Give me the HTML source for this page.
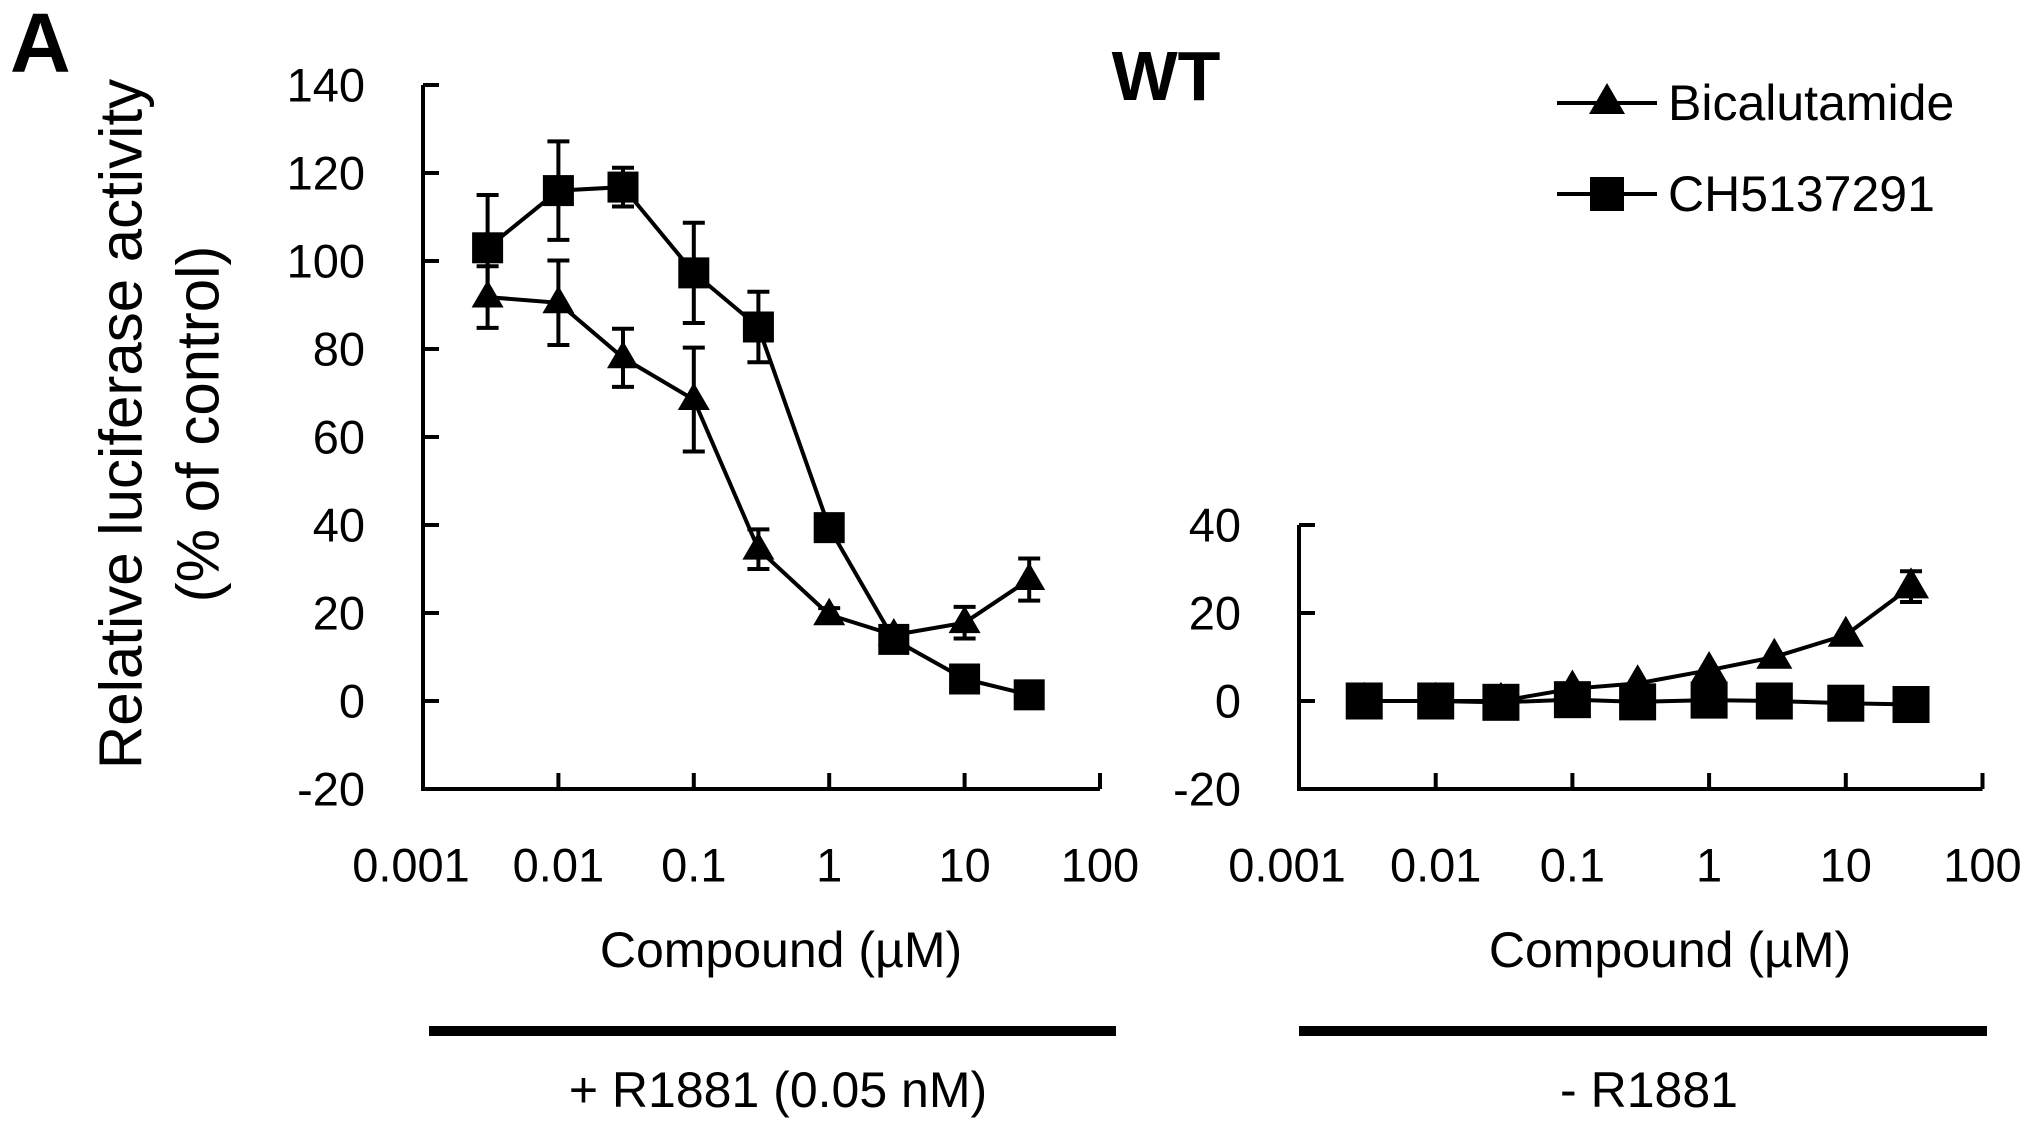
<!DOCTYPE html>
<html><head><meta charset="utf-8"><style>
html,body{margin:0;padding:0;background:#fff;}
svg{display:block;font-family:"Liberation Sans",Arial,sans-serif;}
</style></head><body>
<svg id="chart" width="2031" height="1128" viewBox="0 0 2031 1128">
<text x="10" y="72" font-size="84" font-weight="bold">A</text>
<text x="1166" y="100" font-size="70" font-weight="bold" text-anchor="middle">WT</text>
<g transform="translate(121,424) rotate(-90)">
<text x="0" y="0" font-size="60" text-anchor="middle" dominant-baseline="central">Relative luciferase activity</text>
<text x="0" y="77" font-size="60" text-anchor="middle" dominant-baseline="central">(% of control)</text>
</g>
<g id="legend"></g>
<g id="left"></g>
<g id="right"></g>
</svg>
<script>
const doses = [0.003, 0.01, 0.03, 0.1, 0.3, 1, 3, 10, 30];
const leftBica = [91.8, 90.5, 78, 68.5, 34.5, 19.6, 15, 17.8, 27.6];
const leftBicaErr = [7, 9.6, 6.6, 11.8, 4.5, 1.5, 1, 3.6, 4.8];
const leftCH = [103, 116, 116.8, 97.3, 85, 39.4, 14, 5, 1.4];
const leftCHErr = [12, 11.2, 4.4, 11.4, 8, 1, 1, 0, 0];
const rightBica = [0, 0, 0, 2.8, 4, 7, 10, 15, 26];
const rightBicaErr = [0, 0, 0, 0, 0, 0, 0, 0, 3.5];
const rightCH = [0, 0, -0.3, 0.3, -0.2, 0.2, 0, -0.5, -0.8];
const rightCHErr = [0, 0, 0, 0, 0, 0, 0, 0, 0];
const leftYTicks = [-20, 0, 20, 40, 60, 80, 100, 120, 140];
const rightYTicks = [-20, 0, 20, 40];
const xTicks = [0.001, 0.01, 0.1, 1, 10, 100];
const xTickLabels = ["0.001", "0.01", "0.1", "1", "10", "100"];

const NS = "http://www.w3.org/2000/svg";
function mk(tag, attrs, parent){const e=document.createElementNS(NS,tag);for(const k in attrs)e.setAttribute(k,attrs[k]);parent.appendChild(e);return e;}

function panel(g, cfg){
  const x = v => cfg.x0 + Math.log10(v/0.001)*cfg.dec;
  const y = v => 701 - v*4.4;
  const yMin = cfg.yTicks[0], yMax = cfg.yTicks[cfg.yTicks.length-1];
  const xEnd = x(100);
  const ax = mk('path',{d:`M${cfg.x0},${y(yMax)} L${cfg.x0},${y(yMin)} L${xEnd},${y(yMin)}`,fill:'none',stroke:'#000','stroke-width':4},g);
  
  
  cfg.yTicks.forEach(t=>{
    const tk=mk('line',{x1:cfg.x0,x2:cfg.x0+16,y1:y(t),y2:y(t),stroke:'#000','stroke-width':4},g);
    
    
    const tl=mk('text',{x:cfg.x0-58,y:y(t),'font-size':47,'text-anchor':'end','dominant-baseline':'central'},g);
    tl.textContent=t;
    
    
  });
  xTicks.forEach((t,i)=>{
    if(i>0){const tk=mk('line',{x1:x(t),x2:x(t),y1:y(yMin),y2:y(yMin)-16,stroke:'#000','stroke-width':4},g);
      
      }
    const tl=mk('text',{x:x(t)+(i===0?-12:0),y:865,'font-size':47,'text-anchor':'middle','dominant-baseline':'central'},g);
    tl.textContent=xTickLabels[i];
    
    
  });
  const xl=mk('text',{x:cfg.labelX,y:950,'font-size':50,'text-anchor':'middle','dominant-baseline':'central'},g);
  xl.textContent='Compound (µM)';
  
  
  const bar=mk('rect',{x:cfg.barX1,y:1026,width:cfg.barX2-cfg.barX1,height:10,fill:'#000'},g);
  
  
  const bt=mk('text',{x:cfg.condX,y:1090,'font-size':50,'text-anchor':'middle','dominant-baseline':'central'},g);
  bt.textContent=cfg.cond;
  
  
  // series
  [[cfg.ch,cfg.chErr,'sq','ch5137291'],[cfg.bica,cfg.bicaErr,'tri','bicalutamide']].forEach(([vals,errs,shape,nm])=>{
    const sg=mk('g',{},g);
    
    
    vals.forEach((v,i)=>{ if(errs[i]>0){
      const px=x(doses[i]);
      const eb=mk('path',{d:`M${px},${y(v+errs[i])} L${px},${y(v-errs[i])} M${px-11},${y(v+errs[i])} L${px+11},${y(v+errs[i])} M${px-11},${y(v-errs[i])} L${px+11},${y(v-errs[i])}`,stroke:'#000','stroke-width':4,fill:'none'},sg);
      
      
    }});
    const ln=mk('polyline',{points:vals.map((v,i)=>x(doses[i])+','+y(v)).join(' '),fill:'none',stroke:'#000','stroke-width':4},sg);
    
    
    vals.forEach((v,i)=>{
      const px=x(doses[i]), py=y(v); let m;
      if(shape==='sq'){ const s=cfg.sq; m=mk('rect',{x:px-s/2,y:py-s/2,width:s,height:s,fill:'#000'},sg); }
      else { const w=cfg.tri, h=w*0.86; m=mk('polygon',{points:`${px},${py-h*0.62} ${px+w/2},${py+h*0.38} ${px-w/2},${py+h*0.38}`,fill:'#000'},sg); }
      
      
    });
  });
}
panel(document.getElementById('left'),{x0:423,dec:135.4,yTicks:leftYTicks,labelX:781,barX1:429,barX2:1116,condX:778,cond:'+ R1881 (0.05 nM)',
  bica:leftBica,bicaErr:leftBicaErr,ch:leftCH,chErr:leftCHErr,sq:31,tri:32});
panel(document.getElementById('right'),{x0:1299,dec:136.7,yTicks:rightYTicks,labelX:1670,barX1:1299,barX2:1987,condX:1649,cond:'- R1881',
  bica:rightBica,bicaErr:rightBicaErr,ch:rightCH,chErr:rightCHErr,sq:37,tri:36});

const lg=document.getElementById('legend');
[['Bicalutamide','tri',103],['CH5137291','sq',194]].forEach(([lab,shape,yy])=>{
  const e=mk('g',{},lg);
  
  
  mk('line',{x1:1557,x2:1657,y1:yy,y2:yy,stroke:'#000','stroke-width':4},e);
  if(shape==='sq') mk('rect',{x:1590,y:yy-17,width:34,height:34,fill:'#000'},e);
  else mk('polygon',{points:`1607,${yy-20} 1625,${yy+11} 1589,${yy+11}`,fill:'#000'},e);
  const t=mk('text',{x:1668,y:yy,'font-size':50,'dominant-baseline':'central'},e);
  t.textContent=lab;
});
</script>
</body></html>
